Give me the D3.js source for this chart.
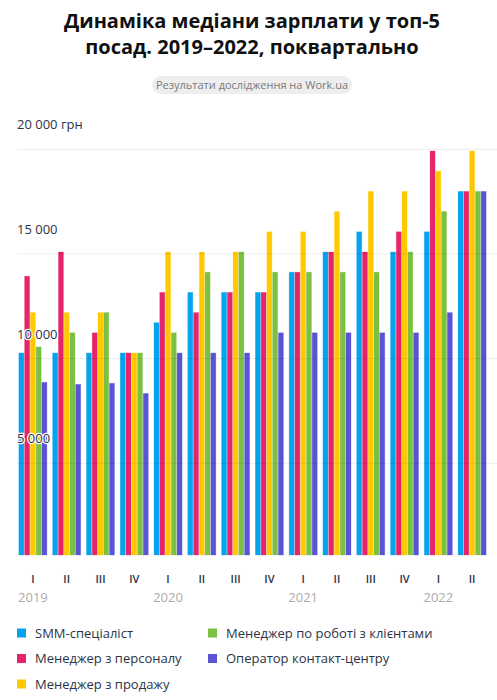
<!DOCTYPE html>
<html>
<head>
<meta charset="utf-8">
<script src="https://cdn.jsdelivr.net/npm/d3@7"></script>
<style>
  body { margin: 0; background: #fff; }
  svg { display: block; font-family: 'Open Sans', sans-serif; }
</style>
</head>
<body>
<svg id="chart" width="497" height="700"></svg>
<script>
// quarters 2019 I .. 2022 II
const quarterLabels = ['I', 'II', 'III', 'IV', 'I', 'II', 'III', 'IV', 'I', 'II', 'III', 'IV', 'I', 'II'];
const yearLabels = ['2019', '2020', '2021', '2022'];
const yearStart = [0, 4, 8, 12]; // index of first quarter of each year

const seriesNames = ['SMM-спеціаліст', 'Менеджер з персоналу', 'Менеджер з продажу',
    'Менеджер по роботі з клієнтами', 'Оператор контакт-центру'];
const seriesColors = ['#03a3ee', '#e4246b', '#ffc800', '#79c043', '#5b53d6'];

const smm      = [10000, 10000, 10000, 10000, 11500, 13000, 13000, 13000, 14000, 15000, 16000, 15000, 16000, 18000];
const hr       = [13800, 15000, 11000, 10000, 13000, 12000, 13000, 13000, 14000, 15000, 15000, 16000, 20000, 18000];
const sales    = [12000, 12000, 12000, 10000, 15000, 15000, 15000, 16000, 16000, 17000, 18000, 18000, 19000, 20000];
const clients  = [10300, 11000, 12000, 10000, 11000, 14000, 15000, 14000, 14000, 14000, 14000, 15000, 17000, 18000];
const operator = [8550, 8450, 8500, 8000, 10000, 10000, 10000, 11000, 11000, 11000, 11000, 11000, 12000, 18000];

const yTicks = [5000, 10000, 15000, 20000];

const seriesValues = [smm, hr, sales, clients, operator];
const svg = d3.select('#chart');

// title
const title = svg.append('text')
    .attr('x', 252)
    .attr('text-anchor', 'middle')
    .attr('font-size', 20)
    .attr('font-weight', 700)
    .attr('fill', '#111');
title.append('tspan').attr('x', 252).attr('y', 28).text('Динаміка медіани зарплати у топ-5');
title.append('tspan').attr('x', 252).attr('y', 54).text('посад. 2019–2022, поквартально');

// source pill
svg.append('rect')
    .attr('x', 152).attr('y', 76)
    .attr('width', 200).attr('height', 18)
    .attr('rx', 9)
    .attr('fill', '#eeeeee');
svg.append('text')
    .attr('x', 252).attr('y', 89)
    .attr('text-anchor', 'middle')
    .attr('font-size', 11)
    .attr('fill', '#7a7a7a')
    .text('Результати дослідження на Work.ua');

// scales
const x = d3.scaleBand()
    .domain(d3.range(quarterLabels.length))
    .range([16, 489])
    .paddingInner(0.17)
    .paddingOuter(0.085);

const xInner = d3.scaleBand()
    .domain(d3.range(seriesNames.length))
    .range([0, x.bandwidth()])
    .paddingInner(0.13);

const y = d3.scaleLinear()
    .domain([0, 20000])
    .range([555, 151]);

// gridline / label scale (sits a bit lower than the bars in the original)
const yGrid = d3.scaleLinear()
    .domain([0, 20000])
    .range([568, 149.3]);

// bars
const groups = svg.append('g')
    .selectAll('g')
    .data(quarterLabels.map((q, i) => i))
    .join('g')
    .attr('transform', i => `translate(${x(i)},0)`);

groups.selectAll('rect')
    .data(i => seriesValues.map((vals, s) => ({s: s, v: vals[i]})))
    .join('rect')
    .attr('x', d => xInner(d.s))
    .attr('y', d => y(d.v))
    .attr('width', xInner.bandwidth())
    .attr('height', d => y(0) - y(d.v))
    .attr('fill', d => seriesColors[d.s])
    .attr('stroke', d => seriesColors[d.s])
    .attr('stroke-opacity', 0.35)
    .attr('stroke-width', 0.8);

// gridlines over the bars
svg.append('g')
    .selectAll('line')
    .data(yTicks)
    .join('line')
    .attr('x1', 17)
    .attr('x2', 497)
    .attr('y1', d => yGrid(d))
    .attr('y2', d => yGrid(d))
    .attr('stroke', '#000')
    .attr('stroke-opacity', 0.07)
    .attr('stroke-width', 1);

// y labels
const fmt = d => d3.format(',')(d).replace(',', ' ');
svg.append('g')
    .selectAll('text')
    .data(yTicks)
    .join('text')
    .attr('x', 17)
    .attr('y', d => yGrid(d) - 20)
    .attr('font-size', 13)
    .attr('fill', '#2b3346')
    .attr('stroke', '#fff')
    .attr('stroke-width', 2.5)
    .attr('paint-order', 'stroke')
    .attr('stroke-linejoin', 'round')
    .text(d => d === 20000 ? fmt(d) + ' грн' : fmt(d));

// x labels
svg.append('g')
    .selectAll('text')
    .data(quarterLabels)
    .join('text')
    .attr('x', (d, i) => x(i) + x.bandwidth() / 2)
    .attr('y', 583)
    .attr('text-anchor', 'middle')
    .attr('font-size', 11)
    .attr('font-weight', 600)
    .attr('fill', '#2b3346')
    .text(d => d);

svg.append('g')
    .selectAll('text')
    .data(yearLabels)
    .join('text')
    .attr('x', (d, i) => x(yearStart[i]) + x.bandwidth() / 2)
    .attr('y', 602)
    .attr('text-anchor', 'middle')
    .attr('font-size', 13)
    .attr('fill', '#ababab')
    .text(d => d);

// legend, two columns
const legendPos = [[17, 633], [17, 658.5], [17, 684], [208, 633], [208, 658.5]];
const legend = svg.append('g')
    .selectAll('g')
    .data(seriesNames)
    .join('g')
    .attr('transform', (d, i) => `translate(${legendPos[i][0]},${legendPos[i][1]})`);

legend.append('rect')
    .attr('x', 0).attr('y', -4.5)
    .attr('width', 9).attr('height', 9)
    .attr('fill', (d, i) => seriesColors[i]);

legend.append('text')
    .attr('x', 18)
    .attr('y', 4.5)
    .attr('font-size', 13)
    .attr('fill', '#2b3346')
    .text(d => d);
</script>
</body>
</html>
